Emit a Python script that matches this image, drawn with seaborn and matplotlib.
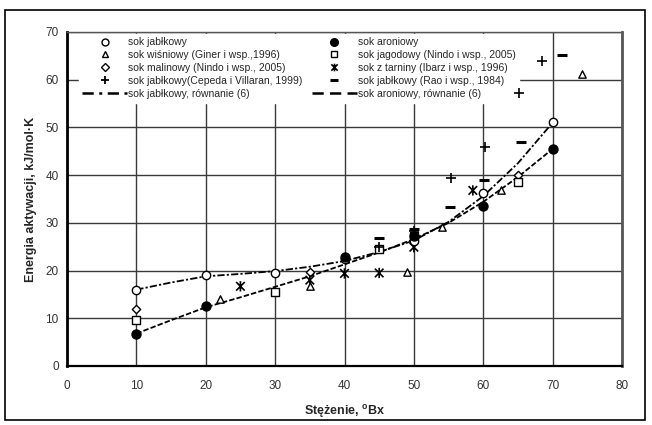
import numpy as np
import pandas as pd
import matplotlib
matplotlib.use("Agg")
import matplotlib.pyplot as plt
import matplotlib.path as mpath
from matplotlib.patches import Rectangle
from matplotlib.lines import Line2D
import seaborn as sns

# dane
x_jablko = [10, 20, 30, 40, 50, 60, 70]
y_jablko = [16.0, 19.0, 19.4, 22.4, 26.3, 36.2, 51.1]

x_aronia = [10, 20, 40, 50, 60, 70]
y_aronia = [6.8, 12.5, 22.8, 27.2, 33.5, 45.5]

x_wisnia = [22, 35, 49, 54, 62.6, 74.2]
y_wisnia = [14.0, 16.7, 19.6, 29.1, 36.8, 61.2]

x_jagoda = [10, 30, 45, 50, 65]
y_jagoda = [9.7, 15.5, 24.5, 27.3, 38.6]

x_malina = [10, 35, 65]
y_malina = [12.0, 19.8, 40.0]

x_tarnina = [25, 35, 40, 45, 50, 58.5]
y_tarnina = [16.7, 18.0, 19.4, 19.5, 24.9, 36.8]

x_cepeda = [45, 50, 55.3, 60.2, 65.1, 68.4]
y_cepeda = [25.0, 28.3, 39.3, 45.8, 57.2, 64.0]

x_rao = [45, 50, 55.2, 60.1, 65.5, 71.3]
y_rao = [26.8, 28.8, 33.4, 39.0, 47.0, 65.2]

# krzywe z równania (6), odczytane punktami
x_row = [10, 15, 20, 25, 30, 35, 40, 45, 50, 55, 60, 65, 70]
y_row_jablko = [16.0, 17.5, 18.8, 19.3, 19.9, 20.8, 22.0, 23.9, 26.3, 30.2, 35.6, 42.5, 51.0]
y_row_aronia = [6.8, 9.6, 12.3, 14.4, 16.6, 18.8, 21.3, 23.8, 26.6, 30.0, 34.4, 39.6, 45.5]

etykiety = [
    "sok jabłkowy",
    "sok wiśniowy (Giner i wsp.,1996)",
    "sok malinowy (Nindo i wsp., 2005)",
    "sok jabłkowy(Cepeda i Villaran, 1999)",
    "sok jabłkowy, równanie (6)",
    "sok aroniowy",
    "sok jagodowy (Nindo i wsp., 2005)",
    "sok z tarniny (Ibarz i wsp., 1996)",
    "sok jabłkowy (Rao i wsp., 1984)",
    "sok aroniowy, równanie (6)",
]

sns.set_style("white")
plt.rcParams['font.family'] = ['Liberation Sans', 'DejaVu Sans']
plt.rcParams['mathtext.fontset'] = 'custom'
plt.rcParams['mathtext.rm'] = 'Liberation Sans'
plt.rcParams['mathtext.bf'] = 'Liberation Sans:bold'

fig = plt.figure(figsize=(6.52, 4.25), dpi=100)
ax = fig.add_axes([67/652, 59/425, 555/652, 334/425])

# gwiazdka jak w Excelu: X z pionową kreską
gw = mpath.Path([(-1, -1), (1, 1), (-1, 1), (1, -1), (0, -1.2), (0, 1.2)],
                [1, 2, 1, 2, 1, 2])

czarny = "black"
kw = dict(ax=ax, zorder=4, legend=False)

sns.lineplot(x=x_row, y=y_row_jablko, color=czarny, lw=1.3, zorder=3, ax=ax)
ax.lines[-1].set_dashes([4, 1.2, 1.2, 1.2])
sns.lineplot(x=x_row, y=y_row_aronia, color=czarny, lw=1.3, zorder=3, ax=ax)
ax.lines[-1].set_dashes([3, 1.2])

sns.scatterplot(x=x_wisnia, y=y_wisnia, marker="^", s=28, facecolor="white", edgecolor=czarny, linewidth=1, **kw)
sns.scatterplot(x=x_malina, y=y_malina, marker="D", s=18, facecolor="white", edgecolor=czarny, linewidth=1, **kw)
sns.scatterplot(x=x_jagoda, y=y_jagoda, marker="s", s=30, facecolor="white", edgecolor=czarny, linewidth=1, **kw)
sns.scatterplot(x=x_tarnina, y=y_tarnina, marker=gw, s=55, facecolor="none", edgecolor=czarny, linewidth=1.2, **kw)
sns.scatterplot(x=x_jablko, y=y_jablko, marker="o", s=36, facecolor="white", edgecolor=czarny, linewidth=1, **kw)
sns.scatterplot(x=x_aronia, y=y_aronia, marker="o", s=42, color=czarny, edgecolor=czarny, linewidth=1, **kw)
sns.scatterplot(x=x_cepeda, y=y_cepeda, marker="+", s=45, color=czarny, linewidth=1.2, **kw)
sns.scatterplot(x=x_rao, y=y_rao, marker="_", s=55, color=czarny, linewidth=2.2, **kw)

ax.set_xlim(0, 80)
ax.set_ylim(0, 70)
ax.set_xticks(range(0, 81, 10))
ax.set_yticks(range(0, 71, 10))
ax.grid(True, color="#3a3a3a", lw=1)
ax.set_axisbelow(True)
ax.tick_params(axis="both", direction="out", length=4, width=1, color="#555555",
               labelsize=8.5, labelcolor="#333333")
ax.tick_params(axis="x", pad=6)
ax.tick_params(axis="y", pad=2)
for s, lw, c in [("left", 2, "black"), ("bottom", 1.6, "black"), ("right", 2, "#555555"), ("top", 1, "#555555")]:
    ax.spines[s].set_visible(True)
    ax.spines[s].set_linewidth(lw)
    ax.spines[s].set_color(c)

ax.set_xlabel(r"Stężenie, $\mathbf{^{o}}$Bx", fontsize=9, fontweight="bold", labelpad=8)
ax.set_ylabel("Energia aktywacji, kJ/mol·K", fontsize=9, fontweight="bold", labelpad=6)

def uchwyt(marker, ms=5, fc="white", mew=1, ls="none", dashes=None):
    h = Line2D([], [], marker=marker, markersize=ms, markerfacecolor=fc,
               markeredgecolor=czarny, color=czarny, markeredgewidth=mew,
               linestyle=ls, lw=1.8)
    if dashes:
        h.set_dashes(dashes)
    return h

uchwyty = [
    uchwyt("o", 5),
    uchwyt("^", 5),
    uchwyt("D", 3.8),
    uchwyt("+", 6, mew=1.3),
    uchwyt(None, ls="-", dashes=[4.5, 2.2, 1.2, 2.2]),
    uchwyt("o", 5.5, fc=czarny),
    uchwyt("s", 5),
    uchwyt(gw, 5.5, fc="none", mew=1.2),
    uchwyt("_", 6, mew=2.2),
    uchwyt(None, ls="-", dashes=[4.5, 2.5]),
]
leg = ax.legend(uchwyty, etykiety, ncol=2, loc="upper left",
                bbox_to_anchor=(0.018, 1.0), fontsize=7.5, frameon=True,
                fancybox=False, edgecolor="white", framealpha=1,
                borderpad=0.35, labelspacing=0.28, handlelength=4.3,
                handletextpad=0.1, columnspacing=0.9, borderaxespad=0.15)
leg.set_zorder(2)

fig.add_artist(Rectangle((5/652, 5/425), 640/652, 410/425, transform=fig.transFigure,
                         fill=False, edgecolor="black", lw=1.2))

fig.savefig("out.png", dpi=100)
plt.close(fig)
